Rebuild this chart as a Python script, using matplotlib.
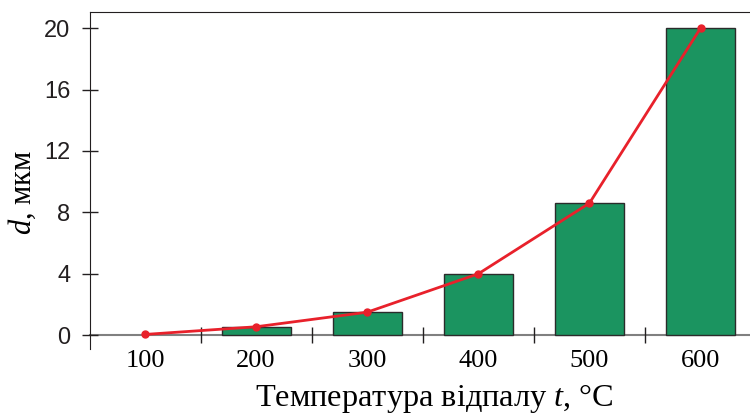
import matplotlib
matplotlib.use("Agg")
import matplotlib.pyplot as plt
from matplotlib.ticker import FixedLocator, NullFormatter

# дані
temps = ["100", "200", "300", "400", "500", "600"]
bar_values = [0.0, 0.55, 1.5, 4.0, 8.6, 20.0]
line_values = [0.05, 0.55, 1.5, 4.0, 8.6, 20.0]
y_ticks = [0, 4, 8, 12, 16, 20]

plt.rcParams['mathtext.fontset'] = 'custom'
plt.rcParams['mathtext.rm'] = 'Liberation Serif'
plt.rcParams['mathtext.it'] = 'Liberation Serif:italic'

serif = ['Liberation Serif', 'DejaVu Serif']
sans = ['Liberation Sans Narrow', 'Liberation Sans', 'DejaVu Sans']

fig = plt.figure(figsize=(7.5, 4.18), dpi=100)
ax = fig.add_axes([0.12, 0.165, 0.88, 0.8063])

x = list(range(len(temps)))
edge_w = [1.0 if v > 0 else 0 for v in bar_values]
ax.bar(x, bar_values, width=0.62, color='#1b9460', edgecolor='#2b2b2b', linewidth=edge_w, zorder=2)
ax.plot(x, line_values, color='#e8212b', linewidth=2.0, marker='o', markersize=5, zorder=3)

ax.set_xlim(-0.495, 5.445)
ax.set_ylim(-0.9, 21.05)

# осі
ax.spines['right'].set_visible(False)
ax.spines['top'].set_color('#231f20')
ax.spines['left'].set_color('#231f20')
ax.spines['bottom'].set_position(('data', 0))
ax.spines['bottom'].set_color('#808080')
ax.spines['bottom'].set_linewidth(1.5)
ax.spines['bottom'].set_zorder(1)

# поділки між категоріями, підписи по центру
ax.xaxis.set_major_locator(FixedLocator([0.5, 1.5, 2.5, 3.5, 4.5]))
ax.xaxis.set_major_formatter(NullFormatter())
ax.xaxis.set_minor_locator(FixedLocator(x))
ax.set_xticklabels(temps, minor=True, fontfamily=serif, fontsize=19)
ax.tick_params(axis='x', which='major', direction='inout', length=11.5, width=1.0, color='#231f20')
ax.tick_params(axis='x', which='minor', length=0, pad=11)

ax.set_yticks(y_ticks)
ax.set_yticklabels([str(v) for v in y_ticks], fontfamily=sans, fontsize=17, color='#231f20')
ax.tick_params(axis='y', direction='inout', length=11.5, width=1.0, color='#231f20', pad=8.5)

ax.set_xlabel('Температура відпалу $t$, °C', fontfamily=serif, fontsize=23.3, labelpad=7)
ax.xaxis.label.set_x(0.521)
ax.set_ylabel('$d$, мкм', fontfamily=serif, fontsize=22, labelpad=4)
ax.yaxis.label.set_y(0.466)

fig.savefig('out.png', dpi=100)
